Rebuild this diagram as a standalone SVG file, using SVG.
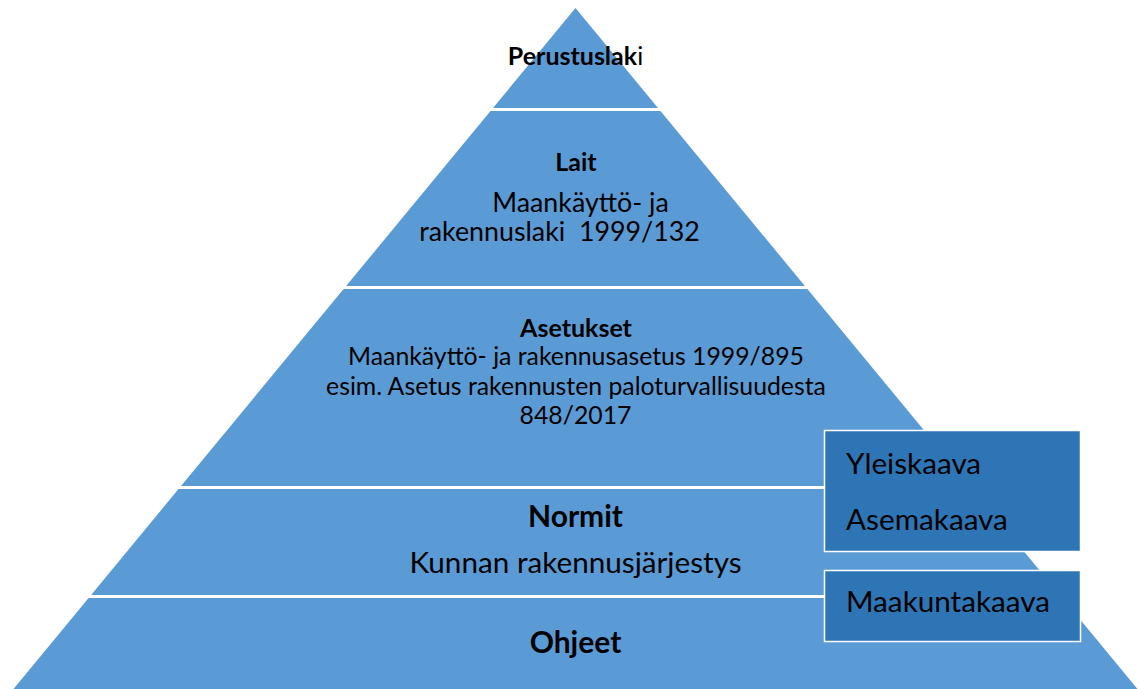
<svg xmlns="http://www.w3.org/2000/svg" width="1140" height="689" viewBox="0 0 1140 689">
  <style>
    .band { fill: #5B9BD5; }
    .box { fill: #2E75B6; stroke: #FFFFFF; stroke-width: 1.5; }
    text { font-family: Lato, "Liberation Sans", sans-serif; fill: #000000; }
    .c { text-anchor: middle; }
    .h1 { font-size: 25px; font-weight: bold; }
    .h2 { font-size: 30px; font-weight: bold; }
    .t0 { font-size: 26.8px; }
    .t1 { font-size: 24.8px; }
    .t2 { font-size: 29.7px; }
  </style>
  <rect width="1140" height="689" fill="#FFFFFF"/>

  <!-- Pyramid levels, top to bottom -->
  <g id="level-perustuslaki">
    <polygon class="band" points="575.5,8 658,108 493,108"/>
    <text class="c h1" x="575.5" y="65">Perustuslak<tspan font-weight="normal">i</tspan></text>
  </g>
  <g id="level-lait">
    <polygon class="band" points="490.5,111 660.5,111 804.9,286 346.1,286"/>
    <text class="c h1" x="576" y="171">Lait</text>
    <text class="c t0" x="580.5" y="212">Maankäyttö- ja</text>
    <text class="c t0" x="559.5" y="241" xml:space="preserve">rakennuslaki  1999/132</text>
  </g>
  <g id="level-asetukset">
    <polygon class="band" points="343.6,289 807.4,289 970,486 181,486"/>
    <text class="c h1" x="576" y="337">Asetukset</text>
    <text class="c t1" x="576" y="365">Maankäyttö- ja rakennusasetus 1999/895</text>
    <text class="c t1" x="576" y="395">esim. Asetus rakennusten paloturvallisuudesta</text>
    <text class="c t1" x="575.5" y="424">848/2017</text>
  </g>
  <g id="level-normit">
    <polygon class="band" points="178.5,489 972.5,489 1059.9,595 91.1,595"/>
    <text class="c h2" x="575.5" y="527">Normit</text>
    <text class="c t2" x="575.5" y="573">Kunnan rakennusjärjestys</text>
  </g>
  <g id="level-ohjeet">
    <polygon class="band" points="88.6,598 1062.4,598 1137.5,689 13.5,689"/>
    <text class="c h2" x="575.5" y="653">Ohjeet</text>
  </g>

  <!-- Plan boxes at the right side -->
  <g id="box-kaavat">
    <rect class="box" x="824.5" y="430.5" width="256" height="121"/>
    <text class="t2" x="846" y="474">Yleiskaava</text>
    <text class="t2" x="846" y="530">Asemakaava</text>
  </g>
  <g id="box-maakuntakaava">
    <rect class="box" x="824.5" y="570.5" width="256" height="71"/>
    <text class="t2" x="846" y="612">Maakuntakaava</text>
  </g>

  <g id="connectors"/>
</svg>
